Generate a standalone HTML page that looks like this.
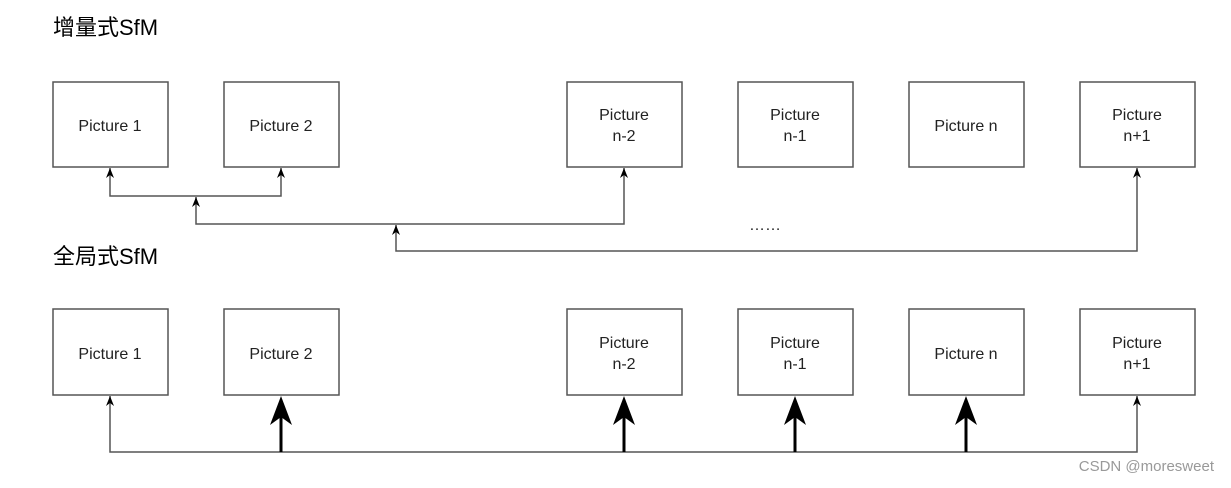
<!DOCTYPE html>
<html><head><meta charset="utf-8"><style>
body{margin:0;background:#fff;width:1231px;height:483px;overflow:hidden}
svg text{font-family:"Liberation Sans","Noto Sans CJK SC",sans-serif}
</style></head><body>
<svg width="1231" height="483" xmlns="http://www.w3.org/2000/svg">
<text x="53" y="35" font-size="22" fill="#000">增量式SfM</text>
<text x="53" y="264" font-size="22" fill="#000">全局式SfM</text>
<g fill="#fff" stroke="#555" stroke-width="1.5">
<rect x="53" y="82" width="115" height="85"/><rect x="224" y="82" width="115" height="85"/>
<rect x="567" y="82" width="115" height="85"/><rect x="738" y="82" width="115" height="85"/>
<rect x="909" y="82" width="115" height="85"/><rect x="1080" y="82" width="115" height="85"/>
<rect x="53" y="309" width="115" height="86"/><rect x="224" y="309" width="115" height="86"/>
<rect x="567" y="309" width="115" height="86"/><rect x="738" y="309" width="115" height="86"/>
<rect x="909" y="309" width="115" height="86"/><rect x="1080" y="309" width="115" height="86"/>
</g>
<g font-size="16" fill="#222" text-anchor="middle">
<text x="110" y="131">Picture 1</text><text x="281" y="131">Picture 2</text>
<text x="624" y="120">Picture</text><text x="624" y="141">n-2</text>
<text x="795" y="120">Picture</text><text x="795" y="141">n-1</text>
<text x="966" y="131">Picture n</text>
<text x="1137" y="120">Picture</text><text x="1137" y="141">n+1</text>
<text x="110" y="359">Picture 1</text><text x="281" y="359">Picture 2</text>
<text x="624" y="348">Picture</text><text x="624" y="369">n-2</text>
<text x="795" y="348">Picture</text><text x="795" y="369">n-1</text>
<text x="966" y="359">Picture n</text>
<text x="1137" y="348">Picture</text><text x="1137" y="369">n+1</text>
<text x="765" y="230">……</text>
</g>
<g fill="none" stroke="#555" stroke-width="1.5">
<path d="M110 168 V196 H281 V168"/>
<path d="M196 197 V224 H624 V168"/>
<path d="M396 225 V251 H1137 V168"/>
<path d="M110 396 V452 H1137 V396"/>
</g>
<g fill="#000">
<path d="M110 168 l-4 10 l4 -3 l4 3z"/><path d="M281 168 l-4 10 l4 -3 l4 3z"/>
<path d="M196 197 l-4 10 l4 -3 l4 3z"/><path d="M624 168 l-4 10 l4 -3 l4 3z"/>
<path d="M396 225 l-4 10 l4 -3 l4 3z"/><path d="M1137 168 l-4 10 l4 -3 l4 3z"/>
<path d="M110 396 l-4 10 l4 -3 l4 3z"/><path d="M1137 396 l-4 10 l4 -3 l4 3z"/>
</g>
<g stroke="#000" stroke-width="3">
<line x1="281" y1="410" x2="281" y2="452"/><line x1="624" y1="410" x2="624" y2="452"/>
<line x1="795" y1="410" x2="795" y2="452"/><line x1="966" y1="410" x2="966" y2="452"/>
</g>
<g fill="#000">
<path d="M281 396 l-11 29 l11 -8 l11 8z"/><path d="M624 396 l-11 29 l11 -8 l11 8z"/>
<path d="M795 396 l-11 29 l11 -8 l11 8z"/><path d="M966 396 l-11 29 l11 -8 l11 8z"/>
</g>
<text x="1214" y="471" font-size="15" fill="#999" text-anchor="end">CSDN @moresweet</text>
</svg>
</body></html>
